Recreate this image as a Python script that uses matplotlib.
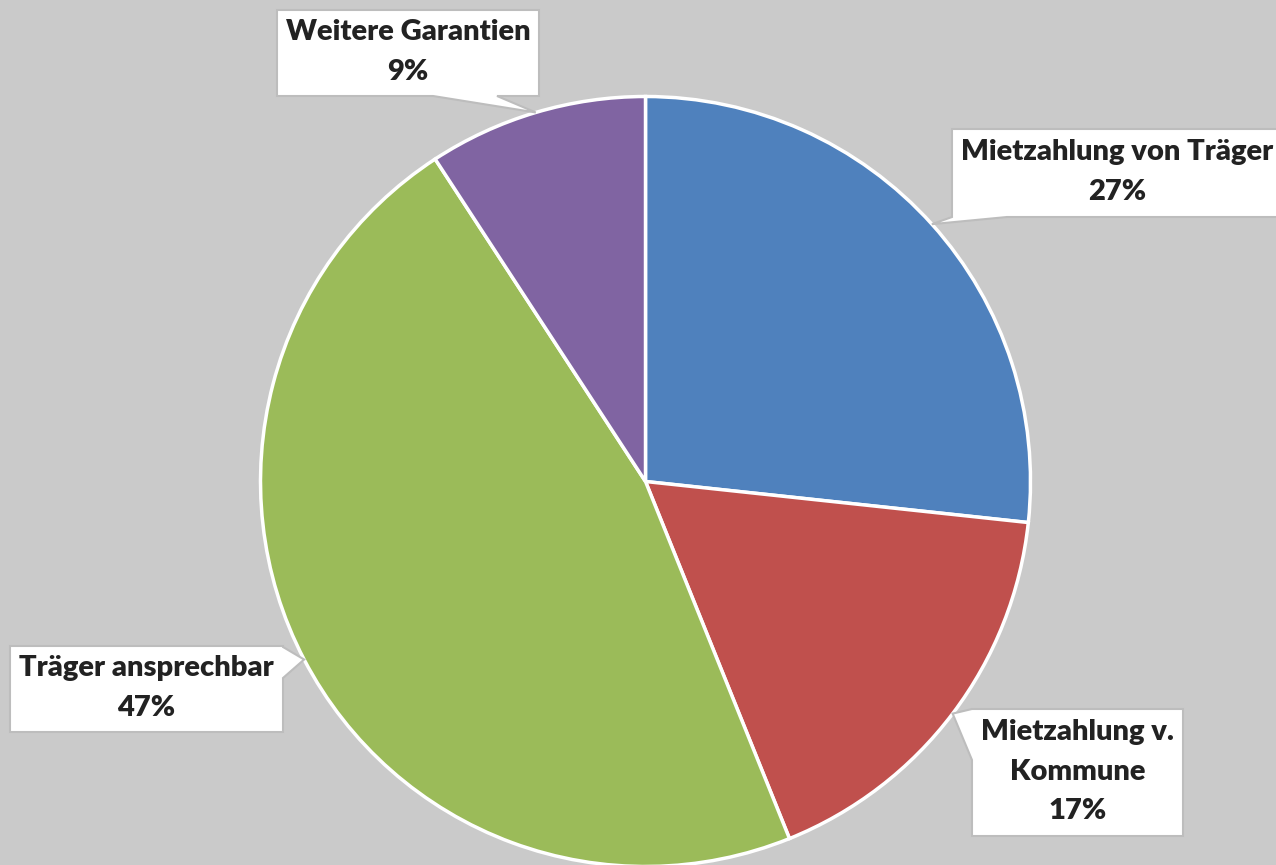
import numpy as np
import matplotlib
matplotlib.use("Agg")
import matplotlib.pyplot as plt
from matplotlib.patches import Polygon

# data (shares, labels show rounded values)
labels = ["Mietzahlung von Träger", "Mietzahlung v.\nKommune",
          "Träger ansprechbar", "Weitere Garantien"]
shares = [26.7, 17.2, 46.9, 9.2]
colors = ["#4F81BD", "#C0504D", "#9BBB59", "#8064A2"]

W, H = 1276, 865
plt.rcParams['font.family'] = ['Lato', 'DejaVu Sans']

fig = plt.figure(figsize=(W / 100, H / 100), dpi=100)
fig.patch.set_facecolor("#cacaca")
ax = fig.add_axes([0, 0, 1, 1])
ax.set_facecolor("#cacaca")

cx, cy, r = 645.5, H - 481.5, 385
wedges, _ = ax.pie(shares, colors=colors, startangle=90, counterclock=False,
                   center=(cx, cy), radius=r,
                   wedgeprops=dict(edgecolor="white", linewidth=2.5))
ax.set_xlim(0, W)
ax.set_ylim(0, H)
ax.set_aspect("equal")
ax.axis("off")

# callout boxes, in picture pixels (y down): left, top, right, bottom,
# side of the pointer and where its base meets that side
boxes = [
    (952, 129, 1282, 217, "bottom", (952, 1007)),
    (972, 709, 1183, 836, "left", (709, 760)),
    (10, 646, 283, 732, "right", (647, 678)),
    (277, 10, 539, 96, "bottom", (433, 497)),
]


def callout(box, tip, text):
    L, T, R, B, side, base = box
    if side == "bottom":
        pts = [(L, T), (R, T), (R, B), (base[1], B), tip, (base[0], B), (L, B)]
    elif side == "left":
        pts = [(L, T), (R, T), (R, B), (L, B), (L, base[1]), tip, (L, base[0])]
    else:
        pts = [(L, T), (R, T), (R, base[0]), tip, (R, base[1]), (R, B), (L, B)]
    pts = [(x, H - y) for x, y in pts]
    ax.add_patch(Polygon(pts, closed=True, facecolor="white",
                         edgecolor="#bdbdbd", linewidth=1.5, zorder=5))
    ax.text((L + R) / 2, H - (T + B) / 2 + 1, text, ha="center", va="center",
            fontsize=21, fontweight="heavy", color="#222222",
            linespacing=1.62, zorder=6)


for w, box, lab, s in zip(wedges, boxes, labels, shares):
    mid = np.deg2rad((w.theta1 + w.theta2) / 2)
    tip_x = cx + r * np.cos(mid)
    tip_y = H - (cy + r * np.sin(mid))
    callout(box, (tip_x, tip_y), f"{lab}\n{round(s)}%")

fig.savefig("out.png", dpi=100, facecolor=fig.get_facecolor())
